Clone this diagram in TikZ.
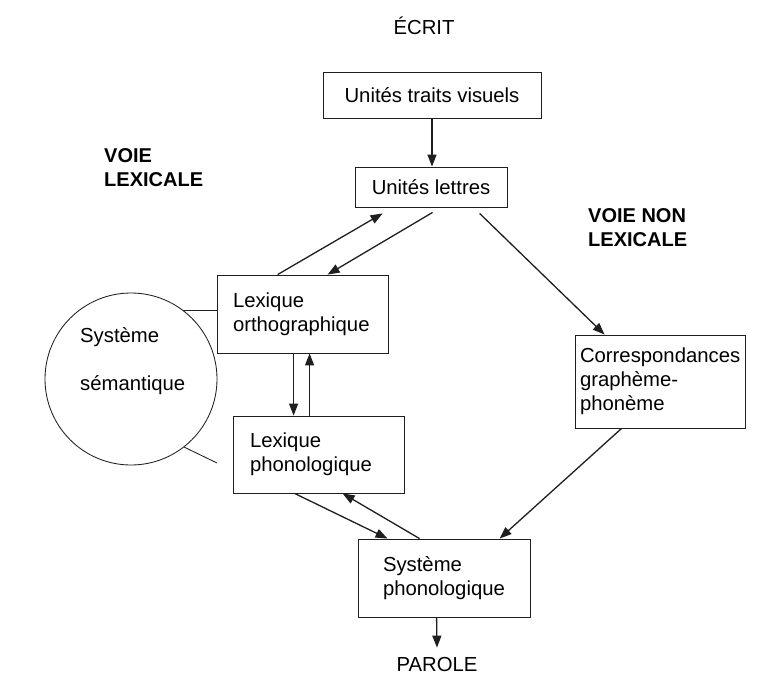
\documentclass[tikz,border=0pt]{standalone}
\usepackage{fontspec}
\setmainfont{Liberation Sans}
\usetikzlibrary{arrows.meta,calc}
\begin{document}
\begin{tikzpicture}[x=1pt,y=-1pt,
  ink/.style={draw=black!88},
  txt/.style={font=\fontsize{20.3}{24}\selectfont, text=black, inner sep=0pt},
  bold/.style={txt, font=\fontsize{20}{24}\selectfont\bfseries, align=left},
  box/.style={ink, line width=0.85pt, rectangle, txt, inner ysep=0pt},
  lbox/.style={box, align=left},
  arr/.style={ink, line width=1.3pt, -{Triangle[length=12pt,width=9pt]}},
  link/.style={ink, line width=0.85pt}
]
\useasboundingbox (0,0) rectangle (765,677);
\fill[white] (0,0) rectangle (765,677);

% texts
\node[txt, anchor=base] (ecrit) at (424,35) {ÉCRIT};
\node[txt, anchor=base] (parole) at (437,671) {PAROLE};
\node[bold, anchor=base west] (vl1) at (104,162) {VOIE};
\node[bold, anchor=base west] (vl2) at (104,186) {LEXICALE};
\node[bold, anchor=base west] (vn1) at (588,222) {VOIE NON};
\node[bold, anchor=base west] (vn2) at (588,246) {LEXICALE};

% boxes
\node[box, minimum width=218, minimum height=46] (B1) at (432,95) {Unités traits visuels};
\node[box, minimum width=152, minimum height=40] (B2) at (431,187) {Unités lettres};
\node[lbox, inner xsep=16pt, text width=139pt, minimum height=78] (B3) at (302.5,314) {Lexique\\orthographique};
\node[lbox, inner xsep=17pt, text width=137pt, minimum height=77] (B4) at (318.5,454.5) {Lexique\\phonologique};
\node[lbox, inner xsep=25pt, text width=122pt, minimum height=78] (B5) at (444,578) {Système\\phonologique};
\node[lbox, inner xsep=5pt, text width=160pt, minimum height=93] (B6) at (660,381.5) {Correspondances\\graphème-\\phonème};

% semantic system
\node[ink, line width=0.85pt, circle, minimum size=172, inner sep=0pt] (sem) at (131,379) {};
\node[txt, anchor=base west] (sem1) at (80,342) {Système};
\node[txt, anchor=base west] (sem2) at (80,390) {sémantique};
\coordinate (semend) at (217,463);

% connectors
\draw[arr] (B1.south) -- (B1.south |- B2.north);
\draw[arr] ($(B3.north west)+(61,0)$) -- ($(B2.south west)+(28,6)$);
\draw[arr] ($(B2.south west)+(78,5)$) -- ($(B3.north west)+(111,0)$);
\draw[arr] ($(B2.south west)+(125,6)$) -- ($(B6.north west)+(30,0)$);
\draw[arr] ($(B3.south west)+(77,0)$) -- ($(B4.north west)+(61,0)$);
\draw[arr] ($(B4.north west)+(77,0)$) -- ($(B3.south west)+(93,0)$);
\draw[arr] ($(B4.south west)+(62,0)$) -- ($(B5.north west)+(30,0)$);
\draw[arr] ($(B5.north west)+(62,0)$) -- ($(B4.south west)+(110,0)$);
\draw[arr] ($(B6.south west)+(47,0)$) -- ($(B5.north west)+(142,0)$);
\draw[arr] ($(B5.south west)+(79,0)$) -- ($(parole.north)+(0,-9)$);
\draw[link] (sem.53) -- (sem.53 -| B3.west);
\draw[link] (sem.-52) -- (semend);
\end{tikzpicture}
\end{document}
